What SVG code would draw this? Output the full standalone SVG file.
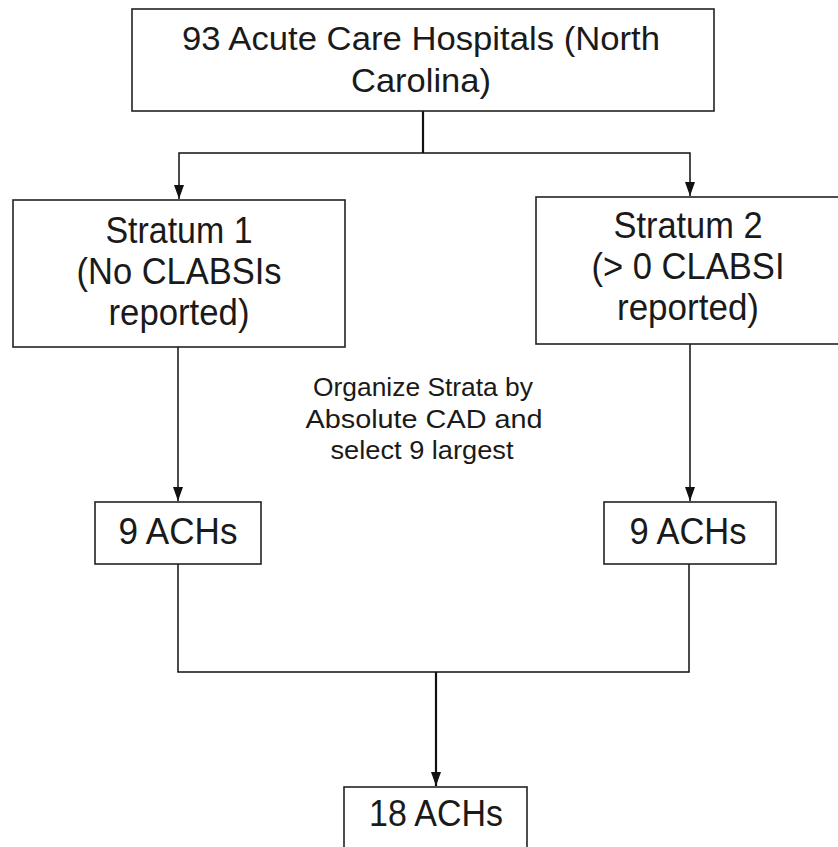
<svg xmlns="http://www.w3.org/2000/svg" width="838" height="847" viewBox="0 0 838 847">
<defs>
<marker id="arr" viewBox="0 0 14 10" markerUnits="userSpaceOnUse" markerWidth="14" markerHeight="10" refX="14" refY="5" orient="auto">
<path d="M0,0 L14,5 L0,10 z" fill="#111"/>
</marker>
<style>
.box{fill:#fff;stroke:#222;stroke-width:1.6}
.t{font-family:"Liberation Sans",Arial,sans-serif;fill:#1a1a1a;text-anchor:middle}
.top{font-size:34px}
.big{font-size:36px}
.small{font-size:26px}
.c{fill:none;stroke:#111;stroke-width:1.5}
.ct{fill:none;stroke:#111;stroke-width:2.2}
</style>
</defs>
<rect width="838" height="847" fill="#fff"/>
<g id="connectors">
<path class="ct" d="M423,111 V153"/>
<path class="c" d="M423,153 H179 V199" marker-end="url(#arr)"/>
<path class="c" d="M423,153 H690 V196" marker-end="url(#arr)"/>
<path class="c" d="M178,347 V501" marker-end="url(#arr)"/>
<path class="c" d="M690,344 V501" marker-end="url(#arr)"/>
<path class="c" d="M178,564 V672 H689 V564"/>
<path class="ct" d="M436,672 V786" marker-end="url(#arr)"/>
</g>
<g id="n_top">
<rect class="box" x="132" y="9" width="582" height="102"/>
<text class="t top" x="421" y="50" textLength="478" lengthAdjust="spacingAndGlyphs">93 Acute Care Hospitals (North</text>
<text class="t top" x="421" y="92" textLength="140" lengthAdjust="spacingAndGlyphs">Carolina)</text>
</g>
<g id="n_stratum1">
<rect class="box" x="13" y="200" width="332" height="147"/>
<text class="t big" x="179" y="243" textLength="147" lengthAdjust="spacingAndGlyphs">Stratum 1</text>
<text class="t big" x="179" y="284" textLength="205" lengthAdjust="spacingAndGlyphs">(No CLABSIs</text>
<text class="t big" x="179" y="325" textLength="141" lengthAdjust="spacingAndGlyphs">reported)</text>
</g>
<g id="n_stratum2">
<rect class="box" x="536" y="197" width="310" height="147"/>
<text class="t big" x="688" y="238" textLength="149" lengthAdjust="spacingAndGlyphs">Stratum 2</text>
<text class="t big" x="688" y="279" textLength="193" lengthAdjust="spacingAndGlyphs">(&gt; 0 CLABSI</text>
<text class="t big" x="688" y="320" textLength="142" lengthAdjust="spacingAndGlyphs">reported)</text>
</g>
<g id="n_label">
<text class="t small" x="423" y="396" textLength="220" lengthAdjust="spacingAndGlyphs">Organize Strata by</text>
<text class="t small" x="424" y="428" textLength="237" lengthAdjust="spacingAndGlyphs">Absolute CAD and</text>
<text class="t small" x="422" y="459" textLength="183" lengthAdjust="spacingAndGlyphs">select 9 largest</text>
</g>
<g id="n_ach1">
<rect class="box" x="95" y="502" width="166" height="62"/>
<text class="t big" x="178" y="544" textLength="119" lengthAdjust="spacingAndGlyphs">9 ACHs</text>
</g>
<g id="n_ach2">
<rect class="box" x="604" y="502" width="172" height="62"/>
<text class="t big" x="688" y="544" textLength="117" lengthAdjust="spacingAndGlyphs">9 ACHs</text>
</g>
<g id="n_ach18">
<rect class="box" x="344" y="787" width="183" height="70"/>
<text class="t big" x="436" y="826" textLength="134" lengthAdjust="spacingAndGlyphs">18 ACHs</text>
</g>
</svg>
